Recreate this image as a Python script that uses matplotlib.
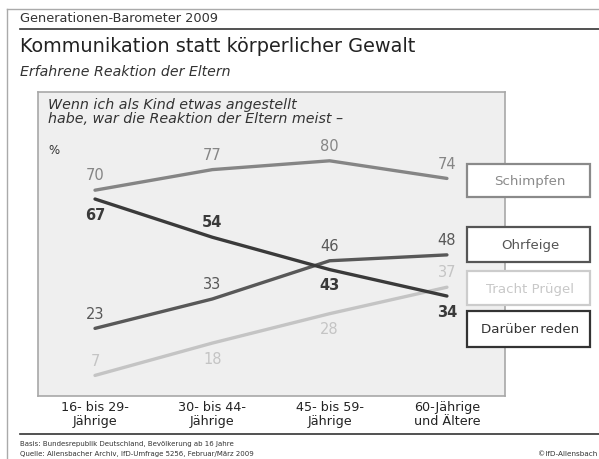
import numpy as np
import matplotlib
matplotlib.use("Agg")
import matplotlib.pyplot as plt
from matplotlib.lines import Line2D
from matplotlib.patches import Rectangle

W, H = 599, 460

# data
groups = ["16- bis 29-\nJährige", "30- bis 44-\nJährige", "45- bis 59-\nJährige", "60-Jährige\nund Ältere"]
schimpfen = [70, 77, 80, 74]
darueber_reden = [67, 54, 43, 34]
ohrfeige = [23, 33, 46, 48]
tracht_pruegel = [7, 18, 28, 37]

# name, values, colour, label side per point (+1 above, -1 below), bold
series = [
    ("Schimpfen", schimpfen, "#858585", [1, 1, 1, 1], False),
    ("Ohrfeige", ohrfeige, "#585858", [1, 1, 1, 1], False),
    ("Tracht Prügel", tracht_pruegel, "#c4c4c4", [1, -1, -1, 1], False),
    ("Darüber reden", darueber_reden, "#3a3a3a", [-1, 1, -1, -1], True),
]

plt.rcParams['font.family'] = ['DejaVu Sans']


def fx(x):
    return x / W


def fy(y):
    return 1 - y / H


fig = plt.figure(figsize=(W / 100, H / 100), dpi=100)
fig.patch.set_facecolor("white")

ax = fig.add_axes([fx(38), fy(397), fx(505) - fx(38), fy(93) - fy(397)])
ax.set_facecolor("#efefef")
for s in ax.spines.values():
    s.set_color("#a8a8a8")
    s.set_linewidth(1.2)

x = np.arange(len(groups))
for name, vals, col, sides, bold in series:
    ax.plot(x, vals, color=col, lw=2.4, solid_capstyle="round", zorder=3)
    for xi, v, sd in zip(x, vals, sides):
        ax.annotate(str(v), (xi, v), xytext=(0, 11 * sd), textcoords="offset points",
                    ha="center", va="center", fontsize=10.5, color=col,
                    fontweight="semibold" if bold else "normal")

ax.set_xlim(-0.486, 3.495)
ax.set_ylim(0, 103.4)
ax.set_xticks(x)
ax.set_xticklabels(groups, fontsize=9.2, color="#222222", linespacing=1.1)
ax.tick_params(axis="x", length=0, pad=3)
ax.set_yticks([])

ax.text(10 / (505 - 38), 0.985,
        "Wenn ich als Kind etwas angestellt\nhabe, war die Reaktion der Eltern meist –",
        transform=ax.transAxes, ha="left", va="top", fontsize=10.3, style="italic",
        color="#333333", linespacing=1.02)
ax.text(0.023, 0.81, "%", transform=ax.transAxes, ha="left", va="center",
        fontsize=8.5, color="#333333")

# legend boxes
boxes = [
    ("Schimpfen", 165, 198, "#8a8a8a", "#8a8a8a"),
    ("Ohrfeige", 228, 263, "#555555", "#555555"),
    ("Tracht Prügel", 272, 306, "#cccccc", "#c8c8c8"),
    ("Darüber reden", 312, 348, "#333333", "#333333"),
]
for label, y0, y1, ec, tc in boxes:
    fig.patches.append(Rectangle((fx(467), fy(y1)), fx(590) - fx(467), fy(y0) - fy(y1),
                                 transform=fig.transFigure, facecolor="white",
                                 edgecolor=ec, lw=1.6, zorder=5))
    fig.text(fx(530), fy((y0 + y1) / 2), label, ha="center", va="center",
             fontsize=9.6, color=tc, zorder=6)

# frame and rules
fig.add_artist(Line2D([fx(7), fx(7)], [fy(10), fy(460)], color="#aaaaaa", lw=1.0))
fig.add_artist(Line2D([fx(7), fx(599)], [fy(10), fy(10)], color="#aaaaaa", lw=1.0))
fig.add_artist(Line2D([fx(20), fx(599)], [fy(30), fy(30)], color="#333333", lw=1.2))
fig.add_artist(Line2D([fx(20), fx(599)], [fy(435), fy(435)], color="#333333", lw=1.2))

fig.text(fx(20), fy(19), "Generationen-Barometer 2009", ha="left", va="center",
         fontsize=9.3, color="#333333")
fig.text(fx(20), fy(47), "Kommunikation statt körperlicher Gewalt", ha="left", va="center",
         fontsize=13.9, color="#222222")
fig.text(fx(20), fy(72), "Erfahrene Reaktion der Eltern", ha="left", va="center",
         fontsize=10.2, style="italic", color="#333333")

fig.text(fx(20), fy(444), "Basis: Bundesrepublik Deutschland, Bevölkerung ab 16 Jahre",
         ha="left", va="center", fontsize=5.0, color="#333333")
fig.text(fx(20), fy(454), "Quelle: Allensbacher Archiv, IfD-Umfrage 5256, Februar/März 2009",
         ha="left", va="center", fontsize=5.0, color="#333333")
fig.text(fx(597), fy(454), "©IfD-Allensbach", ha="right", va="center",
         fontsize=5.2, color="#333333")

fig.savefig("out.png", dpi=100)
